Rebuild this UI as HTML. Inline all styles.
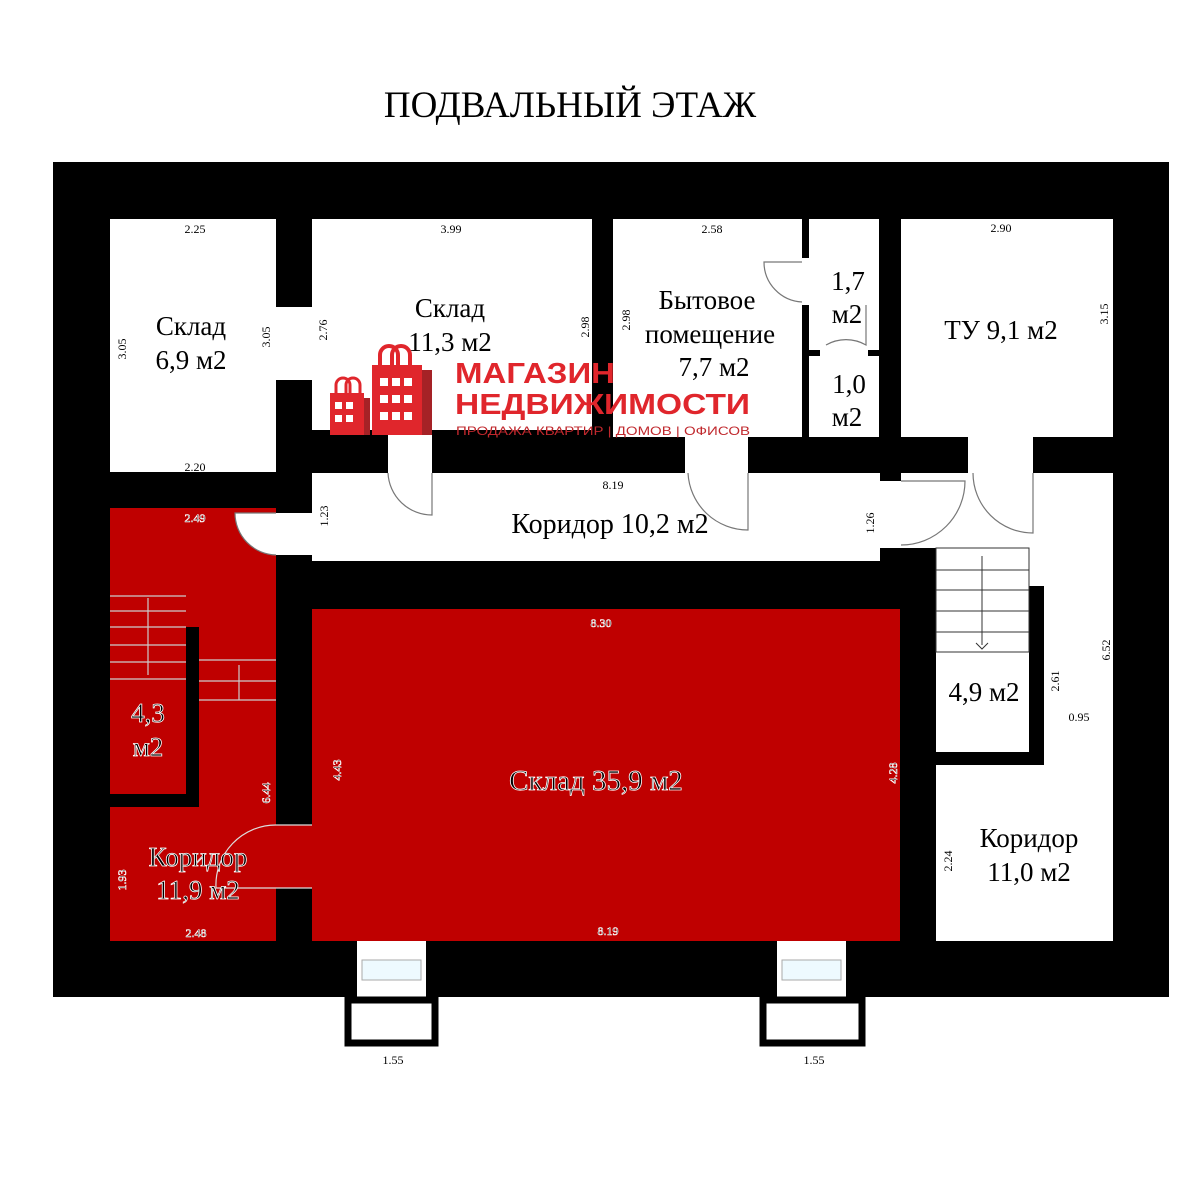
<!DOCTYPE html>
<html><head><meta charset="utf-8"><style>html,body{margin:0;padding:0;background:#fff}svg{display:block}</style></head>
<body>
<svg width="1200" height="1200" viewBox="0 0 1200 1200" xmlns="http://www.w3.org/2000/svg" font-family="Liberation Serif, serif">
<rect width="1200" height="1200" fill="#fff"/>
<text x="570" y="117" font-size="37" text-anchor="middle" fill="#000">ПОДВАЛЬНЫЙ ЭТАЖ</text>
<rect x="53" y="162" width="1116" height="835" fill="#000"/>
<g fill="#fff">
<rect x="110" y="219" width="166" height="253"/>
<rect x="276" y="307" width="36" height="73"/>
<rect x="312" y="219" width="280" height="211"/>
<rect x="613" y="219" width="189" height="218"/>
<rect x="802" y="258" width="7" height="47"/>
<rect x="809" y="219" width="70" height="131"/>
<rect x="809" y="356" width="70" height="81"/>
<rect x="820" y="350" width="48" height="6"/>
<rect x="901" y="219" width="212" height="218"/>
<rect x="312" y="473" width="568" height="88"/>
<rect x="880" y="481" width="21" height="67"/>
<rect x="901" y="473" width="212" height="75"/>
<rect x="1029" y="548" width="84" height="38"/>
<rect x="1044" y="548" width="69" height="393"/>
<rect x="936" y="548" width="93" height="204"/>
<rect x="936" y="765" width="177" height="176"/>
<rect x="276" y="513" width="36" height="42"/>
<rect x="388" y="430" width="44" height="43"/>
<rect x="685" y="437" width="63" height="36"/>
<rect x="968" y="437" width="65" height="36"/>
</g>
<g fill="#bf0000">
<rect x="110" y="508" width="166" height="433"/>
<rect x="312" y="609" width="588" height="332"/>
</g>
<rect x="186" y="627" width="13" height="180" fill="#000"/>
<rect x="110" y="794" width="89" height="13" fill="#000"/>
<rect x="276" y="825" width="36" height="63" fill="#bf0000"/>
<g>
<rect x="357" y="941" width="69" height="56" fill="#fff"/>
<rect x="362" y="960" width="59" height="20" fill="#eefaff" stroke="#aaa"/>
<rect x="348" y="1000" width="87" height="43" fill="#fff" stroke="#000" stroke-width="7"/>
<rect x="777" y="941" width="69" height="56" fill="#fff"/>
<rect x="782" y="960" width="59" height="20" fill="#eefaff" stroke="#aaa"/>
<rect x="763" y="1000" width="99" height="43" fill="#fff" stroke="#000" stroke-width="7"/>
</g>
<g fill="none" stroke="#777" stroke-width="1.2">
<path d="M432 473 V515 A44 44 0 0 1 388 473"/>
<path d="M748 473 V530 A60 60 0 0 1 688 473"/>
<path d="M1033 473 V533 A60 60 0 0 1 973 473"/>
<path d="M901 481 H965 A64 64 0 0 1 901 545"/>
<path d="M802 262 H764 A40 40 0 0 0 802 302"/>
<path d="M866 305 V345 A40 40 0 0 0 826 345"/>
<path d="M276 513 H235 A42 42 0 0 0 276 555" fill="#fff"/>
<path d="M312 825 H276 A60 60 0 0 0 216 888 H312" stroke="#ddd"/>
</g>
<g stroke="#ccc" stroke-width="1.2" fill="none">
<path d="M110 596 H186 M110 611 H186 M110 627 H186 M110 645 H186 M110 662 H186 M110 679 H186"/>
<path d="M148 598 V675 M199 660 H276 M199 681 H276 M199 700 H276 M239 665 V700"/>
</g>
<g stroke="#333" stroke-width="1" fill="none">
<rect x="936" y="548" width="93" height="104"/>
<path d="M936 570 H1029 M936 590 H1029 M936 611 H1029 M936 632 H1029 M982 556 V645 M976 643 L982 649 L988 643"/>
</g>
<g font-size="27" text-anchor="middle" fill="#000">
<text x="191" y="335">Склад</text><text x="191" y="369">6,9 м2</text>
<text x="450" y="317">Склад</text><text x="450" y="351">11,3 м2</text>
<text x="707" y="309">Бытовое</text><text x="710" y="343">помещение</text><text x="714" y="376">7,7 м2</text>
<text x="848" y="290">1,7</text><text x="847" y="323">м2</text>
<text x="849" y="393">1,0</text><text x="847" y="426">м2</text>
<text x="1001" y="339">ТУ 9,1 м2</text>
<text x="610" y="533" font-size="28">Коридор 10,2 м2</text>
<text x="984" y="701">4,9 м2</text>
<text x="1029" y="847">Коридор</text><text x="1029" y="881">11,0 м2</text>
</g>
<g font-size="27" text-anchor="middle" fill="#000" stroke="#fff" stroke-width="0.8">
<text x="148" y="722">4,3</text><text x="148" y="756">м2</text>
<text x="198" y="866">Коридор</text><text x="198" y="899">11,9 м2</text>
<text x="596" y="790" font-size="29">Склад 35,9 м2</text>
</g>
<g font-size="12" text-anchor="middle" fill="#000">
<text x="195" y="233">2.25</text><text x="451" y="233">3.99</text><text x="712" y="233">2.58</text><text x="1001" y="232">2.90</text>
<text x="195" y="471">2.20</text><text x="613" y="489">8.19</text><text x="1079" y="721">0.95</text>
<text x="393" y="1064">1.55</text><text x="814" y="1064">1.55</text>
<text transform="translate(126,349) rotate(-90)">3.05</text>
<text transform="translate(270,337) rotate(-90)">3.05</text>
<text transform="translate(327,330) rotate(-90)">2.76</text>
<text transform="translate(589,327) rotate(-90)">2.98</text>
<text transform="translate(630,320) rotate(-90)">2.98</text>
<text transform="translate(1108,314) rotate(-90)">3.15</text>
<text transform="translate(328,516) rotate(-90)">1.23</text>
<text transform="translate(874,523) rotate(-90)">1.26</text>
<text transform="translate(1110,650) rotate(-90)">6.52</text>
<text transform="translate(1059,681) rotate(-90)">2.61</text>
<text transform="translate(952,861) rotate(-90)">2.24</text>
</g>
<g font-size="12" text-anchor="middle" fill="#000" stroke="#fff" stroke-width="0.6">
<text x="195" y="522">2.49</text><text x="196" y="937">2.48</text>
<text x="601" y="627">8.30</text><text x="608" y="935">8.19</text>
<text transform="translate(341,770) rotate(-90)">4.43</text>
<text transform="translate(270,793) rotate(-90)">6.44</text>
<text transform="translate(126,880) rotate(-90)">1.93</text>
<text transform="translate(897,773) rotate(-90)">4.28</text>
</g>
<g fill="#e0262c">
<rect x="330" y="393" width="34" height="42"/>
<path d="M336 393 v-8 a7 7 0 0 1 14 0 v8 M346 393 v-8 a7 7 0 0 1 14 0 v8" fill="none" stroke="#e0262c" stroke-width="3"/>
<rect x="364" y="398" width="6" height="37" fill="#a52226"/>
<rect x="372" y="365" width="50" height="70"/>
<path d="M380 365 v-10 a9 9 0 0 1 18 0 v10 M392 365 v-10 a9 9 0 0 1 18 0 v10" fill="none" stroke="#e0262c" stroke-width="4"/>
<rect x="422" y="370" width="10" height="65" fill="#a52226"/>
</g>
<g fill="#fff">
<rect x="335" y="402" width="7" height="7"/><rect x="346" y="402" width="7" height="7"/>
<rect x="335" y="415" width="7" height="7"/><rect x="346" y="415" width="7" height="7"/>
<rect x="380" y="378" width="8" height="8"/><rect x="392" y="378" width="8" height="8"/><rect x="404" y="378" width="8" height="8"/>
<rect x="380" y="395" width="8" height="8"/><rect x="392" y="395" width="8" height="8"/><rect x="404" y="395" width="8" height="8"/>
<rect x="380" y="412" width="8" height="8"/><rect x="392" y="412" width="8" height="8"/><rect x="404" y="412" width="8" height="8"/>
</g>
<g font-family="Liberation Sans, sans-serif" fill="#e0262c" font-weight="bold">
<text x="455" y="383" font-size="29" textLength="160" lengthAdjust="spacingAndGlyphs">МАГАЗИН</text>
<text x="455" y="414" font-size="29" textLength="295" lengthAdjust="spacingAndGlyphs">НЕДВИЖИМОСТИ</text>
<text x="456" y="435" font-size="12" font-weight="normal" fill="#c0282d" textLength="294" lengthAdjust="spacingAndGlyphs">ПРОДАЖА КВАРТИР | ДОМОВ | ОФИСОВ</text>
</g>
</svg>
</body></html>
